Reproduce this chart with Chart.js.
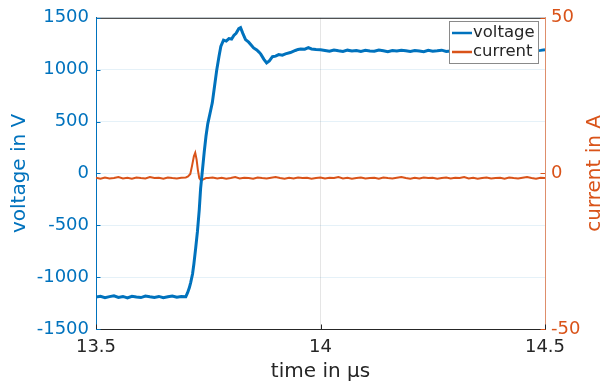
<!DOCTYPE html>
<html lang="en">
<head>
  <meta charset="UTF-8">
  <title>voltage and current</title>
  <script src="https://cdn.jsdelivr.net/npm/chart.js"></script>
  <style>
    html, body { margin: 0; padding: 0; background: #fff; }
    #wrap { width: 614px; height: 387px; }
  </style>
</head>
<body>
  <div id="wrap"><canvas id="chart"></canvas></div>
  <script>
    // sample times for the flat parts (µs)
    function steps(from, count, step) {
      const out = [];
      for (let i = 0; i < count; i++) out.push(+(from + i * step).toFixed(4));
      return out;
    }

    // voltage before the switching edge, 13.50 .. 13.69
    const voltPreT = steps(13.50, 20, 0.01);
    const voltPreV = [-1192, -1185, -1198, -1188, -1180, -1195, -1186, -1200, -1184, -1191,
                      -1197, -1183, -1190, -1196, -1186, -1199, -1189, -1182, -1194, -1187];

    // voltage edge, overshoot and ringing
    const voltEdgeT = [13.700, 13.704, 13.708, 13.711, 13.715, 13.718, 13.722, 13.726, 13.730, 13.733,
                       13.737, 13.741, 13.745, 13.749, 13.754, 13.759, 13.764, 13.769, 13.774, 13.778,
                       13.784, 13.790, 13.796, 13.802, 13.807, 13.812, 13.818, 13.822, 13.827, 13.833,
                       13.840, 13.845, 13.851, 13.858, 13.863, 13.867, 13.874, 13.880, 13.886, 13.893,
                       13.900, 13.907, 13.915, 13.922, 13.933, 13.944, 13.950, 13.956, 13.965, 13.973,
                       13.980, 13.990, 14.000];
    const voltEdgeV = [-1188, -1150, -1100, -1050, -970, -873, -720, -557, -350, -145,
                       30, 205, 360, 480, 580, 680, 840, 1000, 1130, 1224,
                       1284, 1275, 1300, 1295, 1330, 1350, 1395, 1405, 1350, 1290,
                       1265, 1240, 1210, 1190, 1170, 1150, 1100, 1065, 1085, 1125,
                       1130, 1145, 1140, 1152, 1165, 1185, 1195, 1200, 1198, 1212,
                       1200, 1195, 1192];

    // voltage after settling, 14.01 .. 14.50
    const voltPostT = steps(14.01, 50, 0.01);
    const voltPostV = [1185, 1178, 1190, 1182, 1175, 1188, 1180, 1184, 1176, 1186,
                       1181, 1177, 1189, 1183, 1174, 1185, 1179, 1187, 1182, 1176,
                       1184, 1180, 1173, 1186, 1178, 1182, 1188, 1175, 1181, 1185,
                       1177, 1183, 1179, 1186, 1174, 1180, 1184, 1178, 1188, 1176,
                       1182, 1179, 1185, 1173, 1181, 1187, 1177, 1183, 1186, 1192];

    // current before the edge, 13.50 .. 13.70
    const currPreT = steps(13.50, 21, 0.01);
    const currPreV = [-1.4, -1.7, -1.3, -1.6, -1.5, -1.2, -1.6, -1.4, -1.7, -1.3,
                      -1.5, -1.6, -1.2, -1.5, -1.4, -1.7, -1.3, -1.5, -1.6, -1.4, -1.3];

    // current spike
    const currSpikeT = [13.705, 13.710, 13.714, 13.718, 13.721, 13.724, 13.727, 13.730, 13.734, 13.738, 13.745];
    const currSpikeV = [-1.0, -0.2, 2.5, 5.5, 6.6, 4.5, 1.0, -1.5, -2.3, -2.0, -1.5];

    // current after the edge, 13.75 .. 14.50
    const currPostT = steps(13.75, 76, 0.01);
    const currPostV = [-1.5, -1.3, -1.6, -1.4, -1.7, -1.5, -1.2, -1.6, -1.4, -1.5,
                       -1.7, -1.3, -1.5, -1.6, -1.4, -1.2, -1.5, -1.7, -1.4, -1.6,
                       -1.3, -1.5, -1.4, -1.7, -1.5, -1.3, -1.6, -1.4, -1.5, -1.2,
                       -1.6, -1.4, -1.7, -1.5, -1.3, -1.6, -1.5, -1.4, -1.7, -1.3,
                       -1.5, -1.6, -1.4, -1.2, -1.5, -1.7, -1.4, -1.6, -1.3, -1.5,
                       -1.4, -1.7, -1.5, -1.3, -1.6, -1.4, -1.5, -1.2, -1.6, -1.4,
                       -1.7, -1.5, -1.3, -1.6, -1.5, -1.4, -1.7, -1.3, -1.5, -1.6,
                       -1.4, -1.2, -1.5, -1.7, -1.4, -1.5];

    const xTicks = [13.5, 14, 14.5];
    const voltTicks = [-1500, -1000, -500, 0, 500, 1000, 1500];
    const currTicks = [-50, 0, 50];

    const BLUE = '#0072BD';
    const ORANGE = '#D95319';
    const DARK = '#262626';
    const FONT = 'DejaVu Sans';

    function pairs(ts, vs) {
      return ts.map((t, i) => ({ x: t, y: vs[i] }));
    }
    const voltData = pairs(voltPreT.concat(voltEdgeT, voltPostT), voltPreV.concat(voltEdgeV, voltPostV));
    const currData = pairs(currPreT.concat(currSpikeT, currPostT), currPreV.concat(currSpikeV, currPostV));

    // frame, inward tick marks, right axis label and boxed legend like the original figure
    const figureExtras = {
      id: 'figureExtras',
      afterDatasetsDraw(chart) {
        const { ctx, chartArea: a, scales } = chart;
        ctx.save();
        // top frame line
        ctx.strokeStyle = DARK;
        ctx.lineWidth = 1;
        ctx.beginPath();
        ctx.moveTo(a.left, a.top + 0.5);
        ctx.lineTo(a.right, a.top + 0.5);
        ctx.stroke();

        // inward ticks
        ctx.strokeStyle = DARK;
        xTicks.forEach(v => {
          const px = Math.round(scales.x.getPixelForValue(v)) + 0.5;
          ctx.beginPath();
          ctx.moveTo(px, a.bottom);
          ctx.lineTo(px, a.bottom - 4.5);
          ctx.stroke();
        });
        ctx.strokeStyle = BLUE;
        voltTicks.forEach(v => {
          const py = Math.round(scales.y.getPixelForValue(v)) + 0.5;
          ctx.beginPath();
          ctx.moveTo(a.left, py);
          ctx.lineTo(a.left + 4.5, py);
          ctx.stroke();
        });
        ctx.strokeStyle = ORANGE;
        currTicks.forEach(v => {
          const py = Math.round(scales.y1.getPixelForValue(v)) + 0.5;
          ctx.beginPath();
          ctx.moveTo(a.right, py);
          ctx.lineTo(a.right - 4.5, py);
          ctx.stroke();
        });

        // right axis title, reading bottom to top
        ctx.fillStyle = ORANGE;
        ctx.font = '20px "' + FONT + '"';
        ctx.textAlign = 'center';
        ctx.textBaseline = 'middle';
        ctx.translate(595, (a.top + a.bottom) / 2);
        ctx.rotate(-Math.PI / 2);
        ctx.fillText('current in A', 0, 0);
        ctx.setTransform(1, 0, 0, 1, 0, 0);

        // legend box
        const bx = 449.5, by = 21.5, bw = 89, bh = 42;
        ctx.fillStyle = '#fff';
        ctx.fillRect(bx, by, bw, bh);
        ctx.strokeStyle = '#8a8a8a';
        ctx.lineWidth = 1;
        ctx.strokeRect(bx, by, bw, bh);
        ctx.font = '16.5px "' + FONT + '"';
        ctx.textAlign = 'left';
        ctx.textBaseline = 'middle';
        chart.data.datasets.forEach((ds, i) => {
          const ly = 33 + i * 19;
          ctx.strokeStyle = ds.borderColor;
          ctx.lineWidth = 2.5;
          ctx.beginPath();
          ctx.moveTo(452, ly);
          ctx.lineTo(472, ly);
          ctx.stroke();
          ctx.fillStyle = DARK;
          ctx.fillText(ds.label, 473, ly);
        });
        ctx.restore();
      }
    };

    new Chart(document.getElementById('chart'), {
      type: 'line',
      data: {
        datasets: [
          {
            label: 'voltage',
            data: voltData,
            yAxisID: 'y',
            borderColor: BLUE,
            borderWidth: 3,
            pointRadius: 0,
            tension: 0,
            order: 0
          },
          {
            label: 'current',
            data: currData,
            yAxisID: 'y1',
            borderColor: ORANGE,
            borderWidth: 2,
            pointRadius: 0,
            tension: 0,
            order: 1
          }
        ]
      },
      options: {
        responsive: true,
        maintainAspectRatio: false,
        animation: false,
        layout: { padding: { top: 14, left: 0, right: 0, bottom: 0 } },
        plugins: {
          legend: { display: false },
          tooltip: { enabled: false }
        },
        scales: {
          x: {
            type: 'linear',
            min: 13.5,
            max: 14.5,
            afterFit: s => { s.height = 58; },
            afterBuildTicks: s => { s.ticks = xTicks.map(v => ({ value: v })); },
            ticks: {
              color: DARK,
              font: { family: FONT, size: 18 },
              padding: 8,
              maxRotation: 0,
              callback: v => String(v)
            },
            grid: { color: 'rgba(0,0,0,0.1)', drawTicks: false },
            border: { color: DARK, width: 1 },
            title: {
              display: true,
              text: 'time in µs',
              color: DARK,
              font: { family: FONT, size: 20 },
              padding: { bottom: 3 }
            }
          },
          y: {
            position: 'left',
            min: -1500,
            max: 1500,
            afterFit: s => { s.width = 96; },
            afterBuildTicks: s => { s.ticks = voltTicks.map(v => ({ value: v })); },
            ticks: {
              color: BLUE,
              font: { family: FONT, size: 18 },
              padding: 7,
              callback: v => String(v)
            },
            grid: { color: 'rgba(0,114,189,0.1)', drawTicks: false },
            border: { color: BLUE, width: 1 },
            title: {
              display: true,
              text: 'voltage in V',
              color: BLUE,
              font: { family: FONT, size: 20 },
              padding: { top: 8 }
            }
          },
          y1: {
            position: 'right',
            min: -50,
            max: 50,
            afterFit: s => { s.width = 69; },
            afterBuildTicks: s => { s.ticks = currTicks.map(v => ({ value: v })); },
            ticks: {
              color: ORANGE,
              font: { family: FONT, size: 18 },
              padding: 6,
              callback: v => String(v)
            },
            grid: { drawOnChartArea: false, drawTicks: false },
            border: { color: 'rgba(217,83,25,0.6)', width: 1 }
          }
        }
      },
      plugins: [figureExtras]
    });
  </script>
</body>
</html>
